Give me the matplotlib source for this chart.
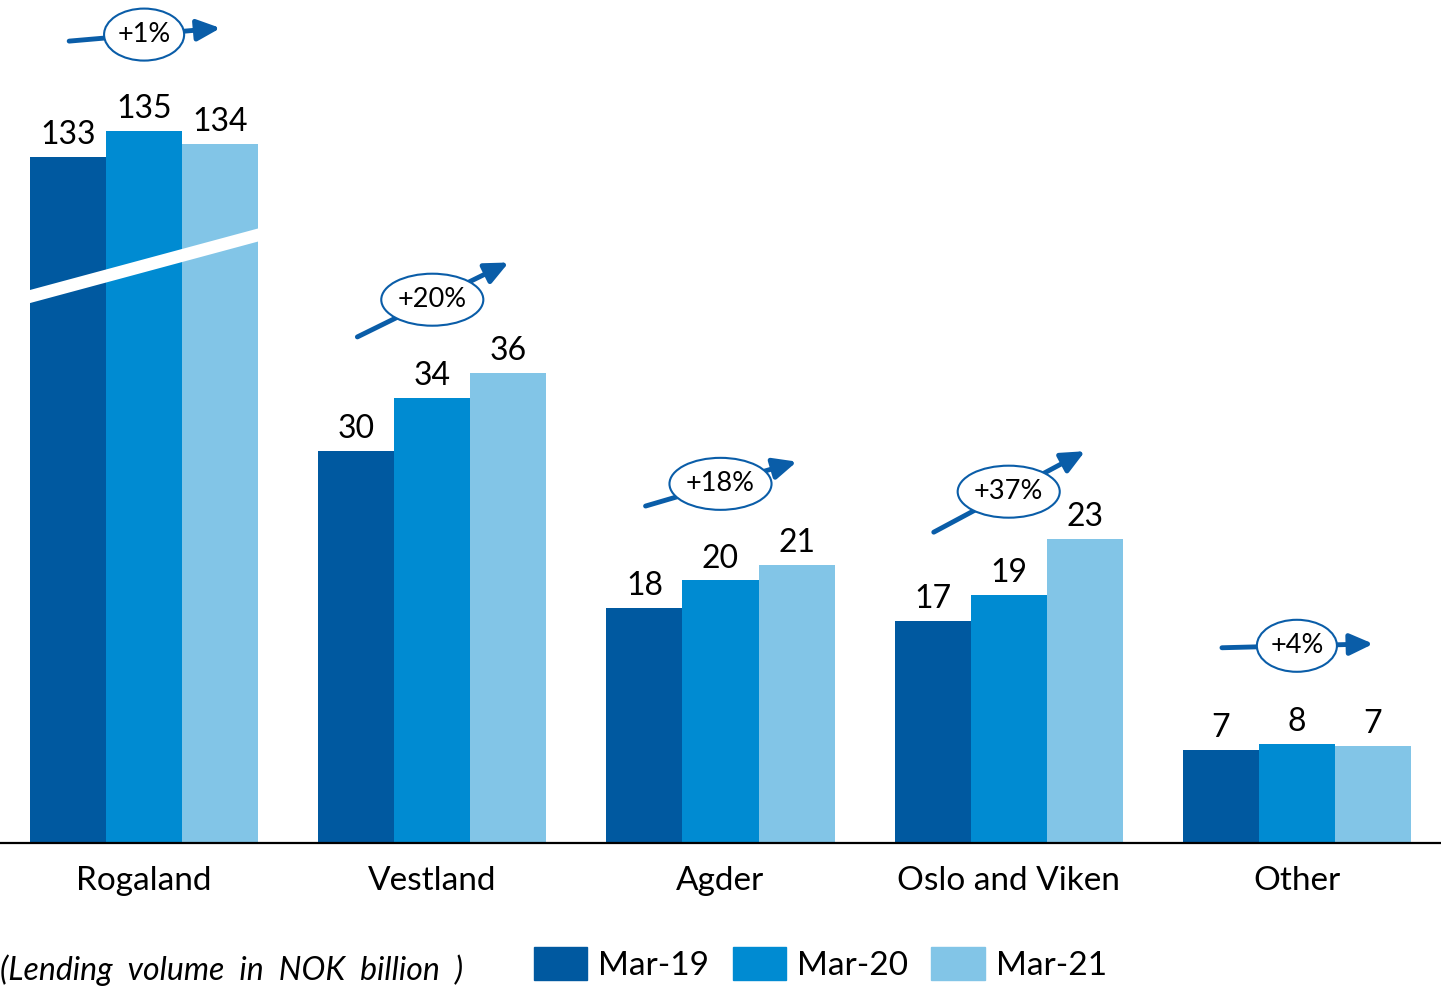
import numpy as np
import matplotlib.pyplot as plt
from matplotlib.patches import Ellipse, Polygon, Patch

plt.rcParams['font.family'] = ['Lato', 'DejaVu Sans']

# data (NOK billion)
regions = ['Rogaland', 'Vestland', 'Agder', 'Oslo and Viken', 'Other']
series = ['Mar-19', 'Mar-20', 'Mar-21']
mar19 = [133, 30.0, 18.0, 17.0, 7.1]
mar20 = [135, 34.1, 20.1, 19.0, 7.6]
mar21 = [134, 36.0, 21.3, 23.3, 7.4]
growth = ['+1%', '+20%', '+18%', '+37%', '+4%']

colors = ['#0059A0', '#008BD2', '#82C5E7']
arrow_col = '#0A5DA8'
axis_cut = 80.5   # Rogaland bars drawn on a broken axis

fig = plt.figure(figsize=(14.41, 9.94), dpi=100)
ax = fig.add_axes([0, 151 / 994, 1, 843 / 994])
ax.set_xlim(-0.5, 4.5)
ax.set_ylim(0, 843 / 13.06)
ax.axis('off')

x = np.arange(len(regions))
w = 76 / 288
for k, vals in enumerate([mar19, mar20, mar21]):
    vals = np.array(vals, dtype=float)
    shown = vals.copy()
    shown[0] = vals[0] - axis_cut
    bars = ax.bar(x + (k - 1) * w, shown, w, color=colors[k], label=series[k])
    ax.bar_label(bars, labels=[f'{v:.0f}' for v in vals], padding=5, fontsize=23)

# white cut across the Rogaland group
ax.add_patch(Polygon([(-0.42, 42.2), (0.42, 47.2), (0.42, 46.2), (-0.42, 41.2)],
                     closed=True, facecolor='white', edgecolor='none', zorder=3))

ax.axhline(0, color='black', lw=1.6, clip_on=False, zorder=4)

for i, name in enumerate(regions):
    ax.annotate(name, (i, 0), xytext=(0, -27), textcoords='offset points',
                ha='center', va='center', fontsize=24, annotation_clip=False)

# growth bubbles: (centre y, rise of arrow, ellipse width) in data units
bubble_y = [61.9, 41.6, 27.5, 26.9, 15.1]
bubble_rise = [1.0, 5.7, 3.4, 6.2, 0.3]
bubble_w = [80, 102, 102, 102, 80]
for i in range(len(regions)):
    cy, dy = bubble_y[i], bubble_rise[i]
    ax.annotate('', xy=(i + 0.265, cy + dy / 2), xytext=(i - 0.26, cy - dy / 2),
                arrowprops=dict(arrowstyle='-|>,head_length=0.7,head_width=0.32',
                                lw=3.5, color=arrow_col, shrinkA=0, shrinkB=0,
                                mutation_scale=20), zorder=5)
    ax.add_patch(Ellipse((i, cy), bubble_w[i] / 288, 52 / 13.06, facecolor='white',
                         edgecolor=arrow_col, lw=1.5, zorder=6))
    ax.text(i, cy, growth[i], ha='center', va='center', fontsize=19.5, zorder=7)

fig.text(0.0, 24 / 994, '(Lending  volume  in  NOK  billion  )', style='italic',
         fontsize=23, ha='left', va='center')

handles = [Patch(color=c) for c in colors]
fig.legend(handles, series, loc='center left', bbox_to_anchor=(534 / 1441, 30 / 994),
           ncol=3, frameon=False, fontsize=24, borderpad=0, borderaxespad=0,
           handlelength=1.6, handleheight=1.15, handletextpad=0.33, columnspacing=0.7)

fig.savefig('out.png', dpi=100)
